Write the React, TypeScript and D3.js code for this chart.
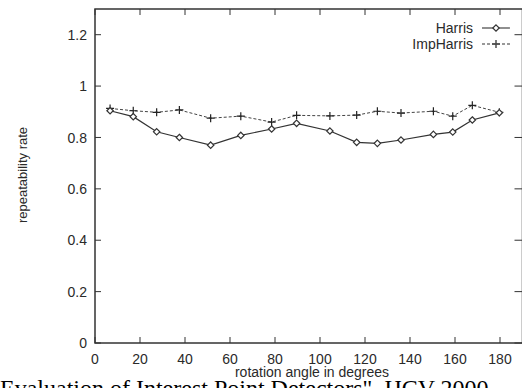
import React, { useEffect, useRef } from 'react';
import * as d3 from 'd3';

// rotation angle (degrees) of each test image
const angles = [6.7, 17, 27.4, 37.5, 51.4, 64.8, 78.5, 89.6, 104.4, 116.3, 125.5, 136, 150.4, 159, 167.7, 179.7];
const harris = [0.904, 0.881, 0.822, 0.8, 0.77, 0.808, 0.833, 0.855, 0.825, 0.781, 0.777, 0.79, 0.812, 0.821, 0.868, 0.896];
const impHarris = [0.913, 0.904, 0.898, 0.907, 0.875, 0.883, 0.86, 0.886, 0.884, 0.887, 0.902, 0.895, 0.902, 0.883, 0.925, 0.898];
const xTicks = [0, 20, 40, 60, 80, 100, 120, 140, 160, 180];
const yTicks = [0, 0.2, 0.4, 0.6, 0.8, 1, 1.2];

const App = () => {
  const ref = useRef<SVGSVGElement>(null);

  useEffect(() => {
    const svg = d3.select(ref.current);
    svg.selectAll('*').remove();

    const left = 95, right = 522.5, top = 9, bottom = 343;
    const x = d3.scaleLinear().domain([0, 190]).range([left, right]);
    const y = d3.scaleLinear().domain([0, 1.3]).range([bottom, top]);
    const font = 'Liberation Sans, Arial, sans-serif';
    const ink = '#2a2a2a';

    // frame
    svg.append('rect')
      .attr('x', left).attr('y', top)
      .attr('width', right - left).attr('height', bottom - top)
      .attr('fill', 'none').attr('stroke', '#333').attr('stroke-width', 1.5);

    // inward ticks on all four sides
    const tl = 6;
    xTicks.forEach(t => {
      svg.append('line').attr('x1', x(t)).attr('x2', x(t)).attr('y1', bottom).attr('y2', bottom - tl)
        .attr('stroke', '#333');
      svg.append('line').attr('x1', x(t)).attr('x2', x(t)).attr('y1', top).attr('y2', top + tl)
        .attr('stroke', '#333');
      svg.append('text').attr('x', x(t)).attr('y', 364)
        .attr('text-anchor', 'middle').attr('font-family', font).attr('font-size', 14).attr('fill', ink)
        .text(t);
    });
    yTicks.forEach(t => {
      svg.append('line').attr('x1', left).attr('x2', left + tl).attr('y1', y(t)).attr('y2', y(t))
        .attr('stroke', '#333');
      svg.append('line').attr('x1', right - tl - 2).attr('x2', right).attr('y1', y(t)).attr('y2', y(t))
        .attr('stroke', '#333');
      svg.append('text').attr('x', 87).attr('y', y(t)).attr('dy', '0.36em')
        .attr('text-anchor', 'end').attr('font-family', font).attr('font-size', 14).attr('fill', ink)
        .text(String(t));
    });

    // axis titles
    svg.append('text').attr('x', 312).attr('y', 377)
      .attr('text-anchor', 'middle').attr('font-family', font).attr('font-size', 14).attr('fill', ink)
      .text('rotation angle in degrees');
    svg.append('text').attr('transform', 'translate(27,175) rotate(-90)')
      .attr('text-anchor', 'middle').attr('font-family', font).attr('font-size', 13).attr('fill', ink)
      .text('repeatability rate');

    const line = d3.line<number>().x((d, i) => x(angles[i])).y(d => y(d));

    // ImpHarris (dashed, plus markers)
    svg.append('path').datum(impHarris).attr('d', line)
      .attr('fill', 'none').attr('stroke', '#444').attr('stroke-width', 1).attr('stroke-dasharray', '3,2');
    const plus = (g: any, cx: number, cy: number) => {
      g.append('path').attr('d', `M${cx - 4},${cy}H${cx + 4}M${cx},${cy - 4}V${cy + 4}`)
        .attr('stroke', '#222').attr('stroke-width', 1.2);
    };
    impHarris.forEach((v, i) => plus(svg, x(angles[i]), y(v)));

    // Harris (solid, diamond markers)
    svg.append('path').datum(harris).attr('d', line)
      .attr('fill', 'none').attr('stroke', '#333').attr('stroke-width', 1.2);
    const diamond = (g: any, cx: number, cy: number) => {
      g.append('path').attr('d', `M${cx},${cy - 3.2}L${cx + 3.2},${cy}L${cx},${cy + 3.2}L${cx - 3.2},${cy}Z`)
        .attr('fill', 'white').attr('stroke', '#333').attr('stroke-width', 1.2);
    };
    harris.forEach((v, i) => diamond(svg, x(angles[i]), y(v)));

    // legend
    const legend = [
      { name: 'Harris', y: 28, dash: null, mark: diamond },
      { name: 'ImpHarris', y: 44, dash: '3,2', mark: plus },
    ];
    legend.forEach(l => {
      svg.append('text').attr('x', 473).attr('y', l.y).attr('dy', '0.36em')
        .attr('text-anchor', 'end').attr('font-family', font).attr('font-size', 14).attr('fill', ink)
        .text(l.name);
      svg.append('line').attr('x1', 482).attr('x2', 510).attr('y1', l.y).attr('y2', l.y)
        .attr('stroke', '#333').attr('stroke-width', 1.1).attr('stroke-dasharray', l.dash);
      l.mark(svg, 496, l.y);
    });

    // caption from the source document, cut off at the bottom
    svg.append('text').attr('x', 0).attr('y', 396)
      .attr('font-family', 'Liberation Serif, Times New Roman, serif').attr('font-size', 24).attr('fill', '#000')
      .text('Evaluation of Interest Point Detectors", IJCV 2000');
  }, []);

  return (
    <div style={{ position: 'fixed', left: 0, top: 0, width: 522, height: 388, overflow: 'hidden', background: 'white' }}>
      <svg ref={ref} width={522} height={388} />
    </div>
  );
};

export default App;
